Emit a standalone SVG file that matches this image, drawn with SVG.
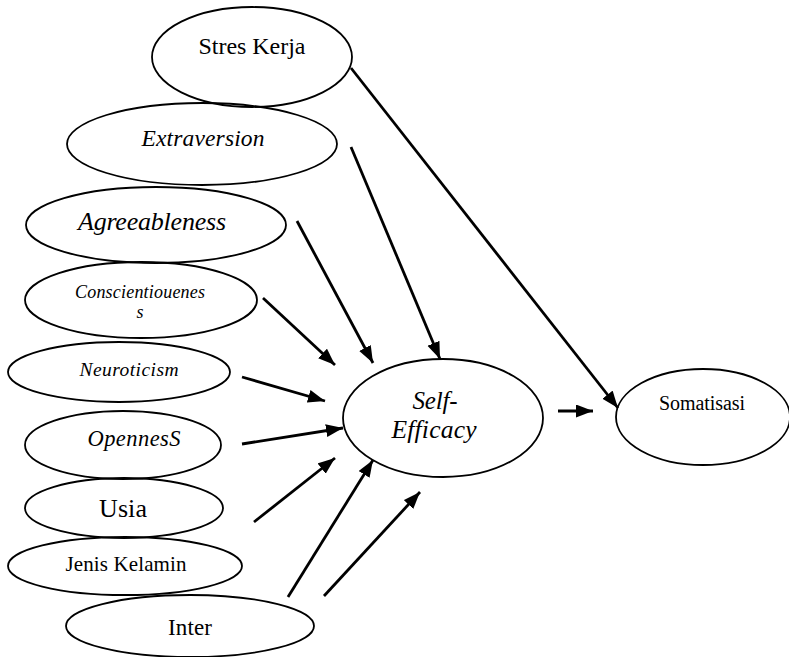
<svg xmlns="http://www.w3.org/2000/svg" width="789" height="657" viewBox="0 0 789 657">
<style>
  .node ellipse { fill: none; stroke: #000; stroke-width: 1.8; }
  .t { font-family: "Liberation Serif", "Times New Roman", serif; fill: #000; text-anchor: middle; }
  .i { font-style: italic; }
  .conn line { stroke: #000; stroke-width: 2.8; marker-end: url(#ah); }
</style>
<defs>
  <marker id="ah" markerUnits="userSpaceOnUse" markerWidth="18" markerHeight="14" refX="17" refY="6.5" orient="auto">
    <path d="M0,0 L17,6.5 L0,13 z" fill="#000"/>
  </marker>
</defs>
<rect width="789" height="657" fill="#fff"/>

<g id="stres-kerja" class="node">
  <ellipse cx="252" cy="57" rx="100" ry="50"/>
  <text class="t" x="252" y="54" font-size="24" textLength="107">Stres Kerja</text>
</g>
<g id="extraversion" class="node">
  <ellipse cx="202" cy="144" rx="135" ry="41"/>
  <text class="t i" x="203" y="146" font-size="23.5" textLength="123">Extraversion</text>
</g>
<g id="agreeableness" class="node">
  <ellipse cx="156" cy="225" rx="130" ry="38"/>
  <text class="t i" x="152" y="230" font-size="26" textLength="148">Agreeableness</text>
</g>
<g id="conscientiouenes" class="node">
  <ellipse cx="141" cy="300" rx="116" ry="38"/>
  <text class="t i" x="140" y="298" font-size="18" textLength="130">Conscientiouenes</text>
  <text class="t i" x="140" y="318" font-size="18">s</text>
</g>
<g id="neuroticism" class="node">
  <ellipse cx="119" cy="372" rx="111" ry="30"/>
  <text class="t i" x="129" y="376" font-size="19.5" textLength="99">Neuroticism</text>
</g>
<g id="openness" class="node">
  <ellipse cx="123" cy="445" rx="98" ry="34"/>
  <text class="t i" x="134" y="446" font-size="22.5" textLength="93">OpennesS</text>
</g>
<g id="usia" class="node">
  <ellipse cx="124" cy="508" rx="99" ry="30"/>
  <text class="t" x="123" y="517" font-size="26" textLength="48">Usia</text>
</g>
<g id="jenis-kelamin" class="node">
  <ellipse cx="125" cy="566" rx="117" ry="29"/>
  <text class="t" x="126" y="571" font-size="21" textLength="121">Jenis Kelamin</text>
</g>
<g id="inter" class="node">
  <ellipse cx="190" cy="626" rx="124" ry="31"/>
  <text class="t" x="190" y="635" font-size="23" textLength="44">Inter</text>
</g>
<g id="self-efficacy" class="node">
  <ellipse cx="443" cy="418" rx="100" ry="59"/>
  <text class="t i" x="435" y="409" font-size="25" textLength="45">Self-</text>
  <text class="t i" x="434" y="438" font-size="25.5" textLength="85">Efficacy</text>
</g>
<g id="somatisasi" class="node">
  <ellipse cx="703" cy="417" rx="87" ry="48"/>
  <text class="t" x="702" y="410" font-size="20" textLength="86">Somatisasi</text>
</g>

<g id="connectors" class="conn">
  <line x1="351" y1="68" x2="618" y2="408"/>
  <line x1="351" y1="147" x2="440" y2="359"/>
  <line x1="297" y1="221" x2="373" y2="363"/>
  <line x1="263" y1="298" x2="335" y2="365"/>
  <line x1="242" y1="377" x2="325" y2="401"/>
  <line x1="242" y1="444" x2="343" y2="428"/>
  <line x1="254" y1="522" x2="335" y2="458"/>
  <line x1="288" y1="597" x2="373" y2="460"/>
  <line x1="324" y1="596" x2="420" y2="492"/>
  <line x1="558" y1="411" x2="593" y2="411"/>
</g>
</svg>
